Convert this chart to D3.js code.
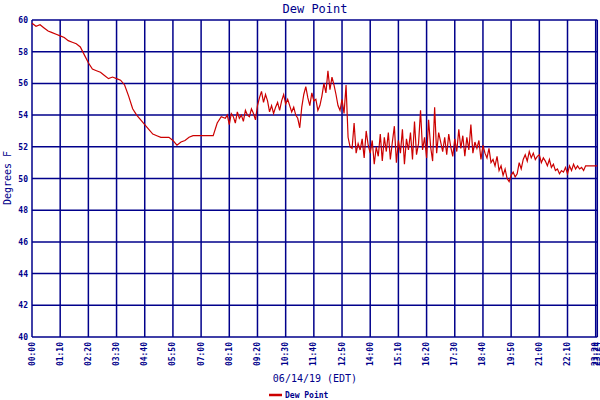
<!DOCTYPE html>
<html><head><meta charset="utf-8">
<script src="https://cdn.jsdelivr.net/npm/d3@7"></script>
<style>body{margin:0;background:#fff}text{font-family:"DejaVu Sans Mono",monospace;fill:#00008b}</style>
</head><body><div id="plot"></div>
<script>
// early hours, 10 min readings
const earlyDew = [59.8,59.6,59.7,59.5,59.3,59.2, 59.1,59.0,58.9,58.7,58.6,58.5,
  58.3,57.8,57.3,56.9,56.8,56.7, 56.5,56.3,56.4,56.3,56.2,55.9,
  55.2,54.4,54.0,53.7,53.4,53.1, 52.8,52.7,52.6,52.6,52.6,52.4,
  52.1,52.3,52.4,52.6,52.7,52.7, 52.7,52.7,52.7,52.7,53.5,53.9];
// 08:00 - 22:55, 5 min readings
const dayDew = [
  53.8,54.0,53.4,54.1,53.9,53.5,54.2,53.8,54.0,53.6,54.3,54.0,
  53.9,54.4,54.1,53.7,54.6,55.1,55.5,54.8,55.3,54.9,54.2,54.6,
  54.1,54.5,54.8,54.3,54.9,55.3,54.7,55.0,54.6,54.2,54.5,54.0,
  53.8,53.2,54.5,55.3,55.8,55.1,54.6,55.4,54.9,55.0,54.3,54.6,
  55.2,56.0,55.4,56.8,55.6,56.4,55.9,55.3,54.6,54.3,55.0,54.1,
  55.9,52.6,52.0,51.9,53.5,51.6,52.2,51.8,52.5,51.3,53.0,52.1,
  51.6,52.4,50.9,52.0,51.4,52.8,51.1,52.6,51.7,52.9,51.2,52.3,
  53.3,51.0,52.4,51.6,53.1,50.9,52.5,51.8,52.9,51.2,53.6,51.5,
  52.2,54.3,51.8,52.6,51.3,53.7,52.0,51.1,54.5,51.6,52.9,52.3,
  51.7,52.6,51.5,52.8,52.0,51.4,52.5,51.7,53.1,51.9,52.7,51.4,
  52.6,51.8,53.4,51.6,52.3,51.9,52.4,51.2,52.1,51.6,51.3,51.9,
  51.0,51.2,50.8,51.4,50.5,50.8,50.2,50.6,50.0,49.8,50.2,50.4,
  50.1,50.3,51.0,50.6,51.2,51.5,51.1,51.7,51.3,51.6,51.2,51.4,
  51.5,51.0,51.3,51.1,50.8,51.2,50.7,50.9,50.5,50.6,50.3,50.5,
  50.4,50.7,50.3,50.8,50.5,50.9,50.6,50.8,50.6,50.7,50.5,50.8];
// last half hour, 10 min readings
const lateDew = [50.8,50.8,50.8];
const tickMinutes = d3.range(0, 1404, 70).concat([1404]);
const yTicks = d3.range(40, 61, 2);

const data = [];
earlyDew.forEach((v, i) => data.push({t: i * 10, v}));
dayDew.forEach((v, i) => data.push({t: 480 + i * 5, v}));
lateDew.forEach((v, i) => data.push({t: 1380 + i * 10, v}));
data.push({t: 1404, v: lateDew[lateDew.length - 1]});

const navy = "#00008b";
const svg = d3.select("#plot").append("svg").attr("width", 600).attr("height", 400);
const x = d3.scaleLinear().domain([0, 1404]).range([32, 597.3]);
const y = d3.scaleLinear().domain([40, 60]).range([337, 20]);

svg.append("text").attr("x", 315).attr("y", 13).attr("text-anchor", "middle")
  .style("font-size", "12px").text("Dew Point");

// grid
svg.append("g").selectAll("line").data(yTicks).join("line")
  .attr("x1", 32).attr("x2", 597.3).attr("y1", d => y(d)).attr("y2", d => y(d))
  .attr("stroke", navy).attr("stroke-width", 1.5);
svg.append("g").selectAll("line").data(tickMinutes).join("line")
  .attr("x1", d => x(d)).attr("x2", d => x(d)).attr("y1", 20).attr("y2", 337)
  .attr("stroke", navy).attr("stroke-width", 1.5);

svg.append("g").selectAll("text").data(yTicks).join("text")
  .attr("x", 28).attr("y", d => y(d) + 3).attr("text-anchor", "end")
  .style("font-size", "8px").style("font-weight", "bold").text(d => d);

const fmt = m => String(Math.floor(m / 60)).padStart(2, "0") + ":" + String(m % 60).padStart(2, "0");
svg.append("g").selectAll("text").data(tickMinutes).join("text")
  .attr("transform", d => `translate(${x(d) + 2.5},342) rotate(-90)`)
  .attr("text-anchor", "end").style("font-size", "8px").style("font-weight", "bold")
  .text(d => fmt(d));

svg.append("text").attr("transform", "translate(11,178) rotate(-90)").attr("text-anchor", "middle")
  .style("font-size", "10px").text("Degrees F");
svg.append("text").attr("x", 315).attr("y", 382).attr("text-anchor", "middle")
  .style("font-size", "10px").text("06/14/19 (EDT)");

// dew point line
svg.append("path").datum(data)
  .attr("d", d3.line().x(d => x(d.t)).y(d => y(d.v)))
  .attr("fill", "none").attr("stroke", "#cc0000").attr("stroke-width", 1.2);

// legend
svg.append("line").attr("x1", 269).attr("x2", 282).attr("y1", 395).attr("y2", 395)
  .attr("stroke", "#cc0000").attr("stroke-width", 2.5);
svg.append("text").attr("x", 285).attr("y", 398).style("font-size", "8px").style("font-weight", "bold")
  .text("Dew Point");
</script></body></html>
